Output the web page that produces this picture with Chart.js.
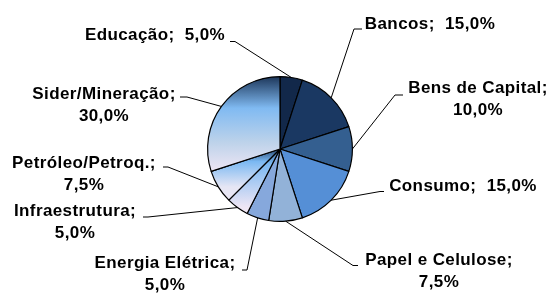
<!DOCTYPE html>
<html><head><meta charset="utf-8">
<script src="https://cdn.jsdelivr.net/npm/chart.js@4"></script>
<style>html,body{margin:0;padding:0;background:#fff}#wrap{width:551px;height:293px;position:relative}</style>
</head><body><div id="wrap"><canvas id="c" width="551" height="293"></canvas></div>
<script>
const categories = ["Educação","Bancos","Bens de Capital","Consumo","Papel e Celulose","Energia Elétrica","Infraestrutura","Petróleo/Petroq.","Sider/Mineração"];
const shares = [5.0, 15.0, 10.0, 15.0, 7.5, 5.0, 5.0, 7.5, 30.0];
const valueLabels = ["5,0%","15,0%","10,0%","15,0%","7,5%","5,0%","5,0%","7,5%","30,0%"];

// layout: text centre x, first-line y, whether label is one line, line start, elbow
const labelLayout = [
  {x:155, y:35, one:true, s:[230,41.5], e:[235,41.5]},
  {x:430, y:24.5, one:true, s:[362,29], e:[354,29]},
  {x:478, y:88.5, one:false, s:[403,95], e:[395,95]},
  {x:463, y:186, one:true, s:[384,191.5], e:[380,191.5]},
  {x:439, y:260, one:false, s:[358,265.5], e:[353,265.5]},
  {x:165, y:263.5, one:false, s:[242,270], e:[247,270]},
  {x:75, y:211.5, one:false, s:[143,217], e:[148,217]},
  {x:84, y:163, one:false, s:[163,167], e:[168,167]},
  {x:104, y:94, one:false, s:[180,97], e:[187,97]}
];
const solid = ["#12284a","#1a3862","#345f90","#558fd6","#92b2d8","#86a8dc"];

function grad(ctx, chart, i){
  const a = chart.chartArea;
  if(!a) return "#8ab";
  const cy=(a.top+a.bottom)/2, r=Math.min(a.right-a.left,a.bottom-a.top)/2;
  const g = ctx.createLinearGradient(0, cy-r, 0, cy+r);
  if(i===8){
    g.addColorStop(0,"#1b3457"); g.addColorStop(0.22,"#80baf2");
    g.addColorStop(0.45,"#bcd2ea"); g.addColorStop(0.66,"#f0e6f4"); g.addColorStop(1,"#f0e6f4");
  } else if(i===7){
    g.addColorStop(0,"#1b3457"); g.addColorStop(0.5,"#27466f"); g.addColorStop(0.585,"#7ab8f2");
    g.addColorStop(0.76,"#e6e6f4"); g.addColorStop(1,"#f0e6f4");
  } else {
    g.addColorStop(0,"#1b3457"); g.addColorStop(0.5,"#3a5f90"); g.addColorStop(0.6,"#7ab8f2");
    g.addColorStop(0.9,"#efe6f4"); g.addColorStop(1,"#f0e6f4");
  }
  return g;
}

const labelPlugin = {
  id:"leader",
  afterDraw(chart){
    const ctx=chart.ctx, meta=chart.getDatasetMeta(0);
    ctx.save();
    ctx.font="bold 17px 'Liberation Sans', Arial, sans-serif";
    try{ctx.letterSpacing="0.4px";}catch(e){}
    ctx.fillStyle="#000"; ctx.strokeStyle="#000"; ctx.lineWidth=1;
    ctx.textAlign="center"; ctx.textBaseline="middle";
    meta.data.forEach((arc,i)=>{
      const L=labelLayout[i];
      const p=arc.getProps(["x","y","startAngle","endAngle","outerRadius"],true);
      const mid=(p.startAngle+p.endAngle)/2;
      const ax=p.x+Math.cos(mid)*p.outerRadius, ay=p.y+Math.sin(mid)*p.outerRadius;
      ctx.beginPath(); ctx.moveTo(L.s[0],L.s[1]); ctx.lineTo(L.e[0],L.e[1]); ctx.lineTo(ax,ay); ctx.stroke();
      if(L.one){
        ctx.fillText(categories[i]+";  "+valueLabels[i], L.x, L.y);
      } else {
        ctx.fillText(categories[i]+";", L.x, L.y);
        ctx.fillText(valueLabels[i], L.x, L.y+22);
      }
    });
    ctx.restore();
  }
};

new Chart(document.getElementById("c"),{
  type:"pie",
  data:{labels:categories,datasets:[{data:shares,
    backgroundColor:(c)=>{const i=c.dataIndex; return i<6?solid[i]:grad(c.chart.ctx,c.chart,i);},
    borderColor:"#000",borderWidth:1.2,borderAlign:"center"}]},
  options:{responsive:false,animation:false,
    layout:{padding:{left:207,right:198,top:76,bottom:71}},
    plugins:{legend:{display:false},tooltip:{enabled:false}}},
  plugins:[labelPlugin]
});
</script></body></html>
